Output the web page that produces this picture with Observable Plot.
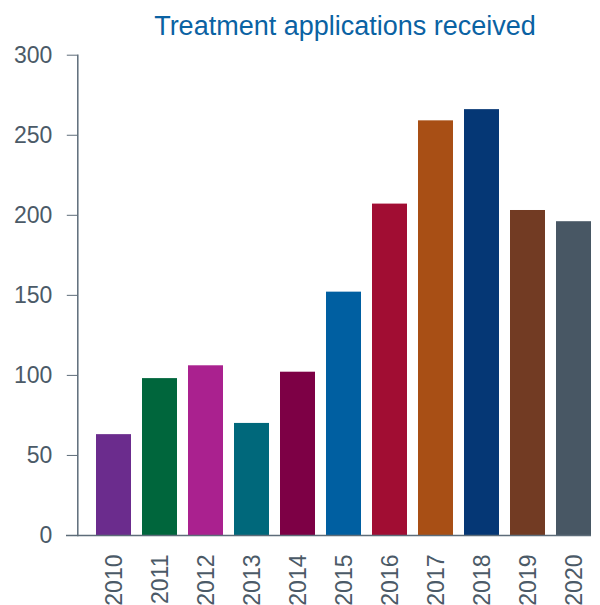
<!DOCTYPE html>
<html><head><meta charset="utf-8">
<script src="https://cdn.jsdelivr.net/npm/d3@7"></script>
<script src="https://cdn.jsdelivr.net/npm/@observablehq/plot@0.6"></script>
<style>
html,body{margin:0;padding:0;background:#fff;overflow:hidden}
#wrap{width:600px;font-family:"Liberation Sans",Arial,sans-serif}
#title{height:44px;box-sizing:border-box;padding-top:13px;padding-left:90px;text-align:center;font-size:27px;line-height:27px;color:#0a62a3;white-space:nowrap}
</style></head><body>
<div id="wrap"><div id="title">Treatment applications received</div><div id="chart"></div></div>
<script>
const years = ["2010","2011","2012","2013","2014","2015","2016","2017","2018","2019","2020"];
const values = [63, 98, 106, 70, 102, 152, 207, 259, 266, 203, 196];
const colors = ["#6b2c8d","#00663c","#aa218f","#00687b","#7d0045","#005fa1","#a10d33","#a84f15","#053775","#723b23","#485764"];
const yTicks = [0, 50, 100, 150, 200, 250, 300];
const data = years.map((y, i) => ({year: y, value: values[i], color: colors[i]}));
const axisColor = "#5d6c79";
const textColor = "#4b5a67";

const chart = Plot.plot({
  width: 600, height: 561,
  marginTop: 10.7, marginBottom: 70, marginLeft: 77.3, marginRight: 9,
  style: {fontFamily: "Liberation Sans, Arial, sans-serif", color: textColor, background: "#fff", overflow: "visible"},
  x: {domain: years, range: [85, 602], padding: 0.239, axis: null},
  y: {domain: [0, 300], axis: null},
  marks: [
    Plot.barY(data, {x: "year", y: "value", fill: "color"}),
    Plot.frame({anchor: "left", stroke: axisColor, strokeWidth: 1.5}),
    Plot.ruleY([0], {stroke: axisColor, strokeWidth: 1.6, insetLeft: -11.3}),
    Plot.axisY({ticks: yTicks, tickSize: 10.5, tickPadding: 15, fontSize: 23, stroke: axisColor, fill: textColor, label: null}),
    Plot.axisX({tickSize: 0, tickRotate: -90, tickPadding: 19, fontSize: 23, fill: textColor, label: null, dx: 1})
  ]
});
document.getElementById("chart").appendChild(chart);
</script></body></html>
